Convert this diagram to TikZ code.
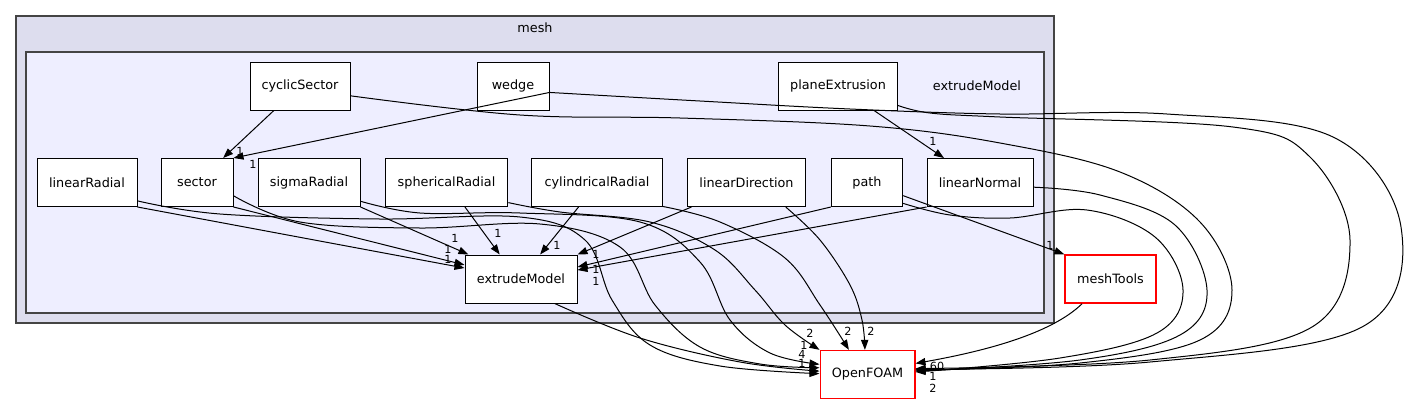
\documentclass[tikz,border=0pt]{standalone}
\usepackage{fontspec}
\setmainfont{DejaVu Sans}
\usepackage{tikz}
\usetikzlibrary{arrows.meta}
\usepackage{xcolor}
\definecolor{meshfill}{HTML}{DDDDEE}
\definecolor{extrfill}{HTML}{EEEEFF}
\definecolor{framegray}{HTML}{444444}
\newcommand{\dirfont}{\fontsize{9.6}{11}\selectfont}
\newcommand{\cntfont}{\fontsize{8.4}{9}\selectfont}
\tikzset{
    meshframe/.style={draw=framegray, fill=meshfill, line width=1.2pt},
    extrframe/.style={draw=framegray, fill=extrfill, line width=1.2pt},
    dirlabel/.style={font=\dirfont, inner sep=0pt},
    dirbox/.style={draw=black, fill=white, line width=0.75pt, minimum height=36pt, inner sep=2pt, font=\dirfont},
    extbox/.style={dirbox, draw=red, line width=1pt},
    dep/.style={-{Triangle[length=7.5pt, width=5.5pt]}, line width=0.75pt},
    cnt/.style={font=\cntfont, inner sep=0pt}
}

\begin{document}
\begin{tikzpicture}[x=0.75pt, y=-0.75pt]
    \useasboundingbox (0,0) rectangle (1406,404);

    % folders
    \draw[meshframe] (16,16) rectangle (1054,323);
    \draw[extrframe] (26,52) rectangle (1044,313);
    \node[dirlabel] (meshLabel) at (535,28) {mesh};
    \node[dirlabel] (extrLabel) at (977,86) {extrudeModel};

    % directories
    \node[dirbox, minimum width=75pt] (cyclicSector) at (300,86) {cyclicSector};
    \node[dirbox, minimum width=54pt] (wedge) at (513,86) {wedge};
    \node[dirbox, minimum width=89pt] (planeExtrusion) at (838,86) {planeExtrusion};
    \node[dirbox, minimum width=75pt] (linearRadial) at (87,182.5) {linearRadial};
    \node[dirbox, minimum width=54pt] (sector) at (197,182.5) {sector};
    \node[dirbox, minimum width=76.5pt] (sigmaRadial) at (309,182.5) {sigmaRadial};
    \node[dirbox, minimum width=92pt] (sphericalRadial) at (446.5,182.5) {sphericalRadial};
    \node[dirbox, minimum width=98pt] (cylindricalRadial) at (597,182.5) {cylindricalRadial};
    \node[dirbox, minimum width=89pt] (linearDirection) at (746.5,182.5) {linearDirection};
    \node[dirbox, minimum width=53.5pt] (pathModel) at (867,182.5) {path};
    \node[dirbox, minimum width=79.5pt] (linearNormal) at (980,182.5) {linearNormal};
    \node[dirbox, minimum width=84pt] (extrudeModel) at (521,279) {extrudeModel};
    \node[extbox, minimum width=68.25pt] (meshTools) at (1110.5,279) {meshTools};
    \node[extbox, minimum width=71pt] (OpenFOAM) at (867.5,374.5) {OpenFOAM};

    % dependencies inside extrudeModel
    \draw[dep] (cyclicSector) -- (sector);
    \draw[dep] (wedge.-10) -- (sector.north east);
    \draw[dep] (planeExtrusion) -- (linearNormal);
    \draw[dep] (linearRadial.south east) -- (extrudeModel.169);
    \draw[dep] (sector.south east) -- (extrudeModel.166);
    \draw[dep] (sigmaRadial.south east) -- (extrudeModel.155);
    \draw[dep] (sphericalRadial.-53) -- (extrudeModel.131);
    \draw[dep] (cylindricalRadial.-127) -- (extrudeModel.52);
    \draw[dep] (linearDirection.-156) -- (extrudeModel.north east);
    \draw[dep] (pathModel.south west) -- (extrudeModel.12);
    \draw[dep] (linearNormal.south west) -- (extrudeModel.9);
    \draw[dep] (pathModel.-20) -- (meshTools.north west);

    % dependencies on OpenFOAM, left side
    \draw[dep] plot[smooth, tension=0.6] coordinates {(extrudeModel.-36) (640,338) (740,362) (OpenFOAM.176)};
    \draw[dep] plot[smooth, tension=0.6] coordinates {(linearRadial.-20) (220,214) (380,219) (520,217) (585,240) (612,300) (650,345) (720,366) (OpenFOAM.179)};
    \draw[dep] plot[smooth, tension=0.6] coordinates {(sector.-20) (300,222) (420,228) (540,224) (620,247) (655,305) (700,347) (760,364) (OpenFOAM.172)};
    \draw[dep] plot[smooth, tension=0.6] coordinates {(sigmaRadial.-20) (420,213) (520,213) (640,222) (700,262) (730,320) (770,353) (OpenFOAM.168)};
    \draw[dep] plot[smooth, tension=0.6] coordinates {(sphericalRadial.-18) (560,212) (650,222) (715,250) (755,290) (785,325) (OpenFOAM.north west)};
    \draw[dep] plot[smooth, tension=0.6] coordinates {(cylindricalRadial.-20) (720,222) (785,258) (820,305) (OpenFOAM.127)};
    \draw[dep] plot[smooth, tension=0.6] coordinates {(linearDirection.-32) (820,240) (850,285) (862,320) (OpenFOAM.96)};

    % dependencies on OpenFOAM, right side
    \draw[dep] (meshTools.221) .. controls (1050,335) and (980,352) .. (OpenFOAM.13);
    \draw[dep] plot[smooth, tension=0.6] coordinates {(pathModel.-30) (950,215) (1010,218) (1087,210) (1155,237) (1183,290) (1157,333) (1060,358) (OpenFOAM.3)};
    \draw[dep] plot[smooth, tension=0.6] coordinates {(linearNormal.-5) (1100,195) (1175,225) (1207,290) (1180,335) (1080,360) (OpenFOAM.4)};
    \draw[dep] plot[smooth, tension=0.6] coordinates {(cyclicSector.-11) (520,115) (680,118) (870,126) (1000,143) (1120,172) (1200,222) (1232,290) (1200,340) (1080,363) (OpenFOAM.5)};
    \draw[dep] plot[smooth, tension=0.6] coordinates {(planeExtrusion.-18) (930,113) (1000,117) (1233,127) (1310,157) (1350,240) (1312,327) (1150,360) (OpenFOAM.7)};
    \draw[dep] plot[smooth, tension=0.6] coordinates {(wedge.-10) (700,101) (850,109) (1000,114) (1167,114) (1333,137) (1401,227) (1362,327) (1150,362) (OpenFOAM.6)};

    % counts
    \node[cnt] (c1) at (240,151) {1};
    \node[cnt] (c2) at (253,164) {1};
    \node[cnt] (c3) at (933,141) {1};
    \node[cnt] (c4) at (455,238) {1};
    \node[cnt] (c5) at (498,233) {1};
    \node[cnt] (c6) at (557,245) {1};
    \node[cnt] (c7) at (448,249) {1};
    \node[cnt] (c8) at (448,259) {1};
    \node[cnt] (c9) at (596,254) {1};
    \node[cnt] (c10) at (596,269) {1};
    \node[cnt] (c11) at (596,281) {1};
    \node[cnt] (c12) at (1050,245) {1};
    \node[cnt] (c13) at (810,333) {2};
    \node[cnt] (c14) at (848,331) {2};
    \node[cnt] (c15) at (871,331) {2};
    \node[cnt] (c16) at (804,345) {1};
    \node[cnt] (c17) at (802,354) {4};
    \node[cnt] (c18) at (802,363) {1};
    \node[cnt] (c19) at (937,366) {60};
    \node[cnt] (c20) at (933,376) {1};
    \node[cnt] (c21) at (933,388) {2};
\end{tikzpicture}
\end{document}
